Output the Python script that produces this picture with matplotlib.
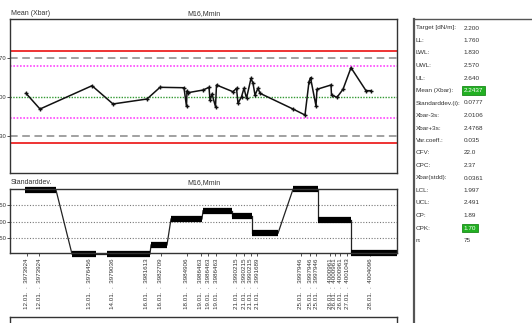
import matplotlib
matplotlib.use("Agg")
import matplotlib.pyplot as plt

plt.rcParams['font.family'] = ['Liberation Sans Narrow', 'Liberation Sans', 'DejaVu Sans']

# ---------------- data ----------------
# mean (Xbar) per sample: x position (sample axis units) and value
mean_x = [16, 30, 82, 103, 137, 150, 174, 176.5, 177, 178, 193, 199, 200, 202, 205.5, 206.5,
          223, 226.5, 228, 231.5, 234, 236.5, 241, 243, 245, 248, 250, 283, 295, 299, 300.5,
          306, 307, 321, 321.5, 327, 333, 341, 356, 361]
mean_y = [2.235, 2.086, 2.307, 2.134, 2.181, 2.292, 2.288, 2.110, 2.257, 2.241, 2.266, 2.292,
          2.172, 2.228, 2.108, 2.314, 2.250, 2.283, 2.140, 2.203, 2.283, 2.188, 2.377, 2.330,
          2.219, 2.283, 2.235, 2.086, 2.029, 2.345, 2.383, 2.115, 2.273, 2.314, 2.219, 2.197,
          2.273, 2.478, 2.260, 2.260]

# limits
target = 2.200
ll, lwl, uwl, ul = 1.760, 1.830, 2.570, 2.640
lcl, ucl = 1.997, 2.491

# standard deviation per group: start, end, value
sd_start = [15, 62, 97, 141, 161, 193, 222, 242, 283, 308, 341]
sd_end = [46, 86, 140, 157, 192, 222, 242, 268, 308, 341, 387]
sd_val = [0.0975, 0.0014, 0.0014, 0.0150, 0.0540, 0.0664, 0.0589, 0.0325, 0.0985, 0.0525, 0.0025]

# x tick labels
lab_x = [16.7, 29.3, 79.3, 103, 136.7, 150.7, 176.7, 190.7, 198.3, 206, 226, 234, 240.7, 247.3,
         290.7, 300, 306, 320, 325, 330, 337.3, 360]
lab_date = ["12.01.", "12.01.", "13.01.", "14.01.", "16.01.", "16.01.", "18.01.", "19.01.",
            "19.01.", "19.01.", "21.01.", "21.01.", "21.01.", "21.01.", "25.01.", "25.01.",
            "25.01.", "26.01.", "26.01.", "26.01.", "27.01.", "28.01."]
lab_num = ["3973924", "3973924", "3976456", "3979036", "3981613", "3982709", "3984906",
           "3986463", "3986463", "3986463", "3990215", "3990215", "3990215", "3991689",
           "3997946", "3997946", "3997946", "4000961", "4000961", "4000961", "4001043", "4004096"]

stat_names = ["Target [dN/m]:", "LL:", "LWL:", "UWL:", "UL:", "Mean (Xbar):", "Standarddev.(i):",
              "Xbar-3s:", "Xbar+3s:", "Var.coeff.:", "CFV:", "CPC:", "Xbar(stdd):", "LCL:",
              "UCL:", "CP:", "CPK:", "n:"]
stat_vals = ["2.200", "1.760", "1.830", "2.570", "2.640", "2.2437", "0.0777", "2.0106", "2.4768",
             "0.035", "22.0", "2.37", "0.0361", "1.997", "2.491", "1.89", "1.70", "75"]
stat_highlight = ["Mean (Xbar):", "CPK:"]

# ---------------- figure ----------------
W, H = 532, 323
fig = plt.figure(figsize=(W / 100, H / 100), dpi=100)

def box(x0, y0, x1, y1):
    return [x0 / W, 1 - y1 / H, (x1 - x0) / W, (y1 - y0) / H]

txtc = '#333333'

# top panel
ax1 = fig.add_axes(box(10, 19, 397, 173))
ax1.set_xlim(0, 387)
ax1.set_ylim(1.479, 2.940)
ax1.axhline(ul, color='#ee3333', lw=1.4)
ax1.axhline(ll, color='#ee3333', lw=1.4)
ax1.axhline(uwl, color='#888888', lw=1.1, ls=(0, (5, 3)))
ax1.axhline(lwl, color='#888888', lw=1.1, ls=(0, (5, 3)))
ax1.axhline(ucl, color='#ff44ff', lw=1.2, ls=(0, (1, 1)))
ax1.axhline(lcl, color='#ff44ff', lw=1.2, ls=(0, (1, 1)))
ax1.axhline(target, color='#339933', lw=1.0, ls=(0, (1, 1)))
ax1.plot(mean_x, mean_y, color='#111111', lw=1.1, marker='+', ms=3.5, mew=1)
ax1.set_xticks([])
ax1.set_yticks([uwl, target, lwl])
ax1.set_yticklabels([f"{v:.3f}" for v in (uwl, target, lwl)])
ax1.tick_params(axis='y', labelsize=4.2, length=2, width=0.6, pad=0.5, colors=txtc)
for s in ax1.spines.values():
    s.set_color('#333333'); s.set_linewidth(1.0)
fig.text(11 / W, 1 - 17 / H, "Mean (Xbar)", fontsize=5, color=txtc, ha='left', va='bottom')
fig.text(203.5 / W, 1 - 17 / H, "M16,Mmin", fontsize=5, color=txtc, ha='center', va='bottom')

# bottom panel
ax2 = fig.add_axes(box(10, 189, 397, 253))
ax2.set_xlim(0, 387)
ax2.set_ylim(0.0029, 0.099)
for g in (0.025, 0.05, 0.075):
    ax2.axhline(g, color='#777777', lw=0.8, ls=(0, (1, 1.5)))
for i in range(len(sd_val) - 1):
    ax2.plot([sd_end[i], sd_start[i + 1]], [sd_val[i], sd_val[i + 1]], color='#222222', lw=0.9,
             clip_on=False)
for s0, s1, v in zip(sd_start, sd_end, sd_val):
    ax2.plot([s0, s1], [v, v], color='black', lw=4.5, solid_capstyle='butt', clip_on=False)
ax2.set_yticks([0.075, 0.05, 0.025])
ax2.set_yticklabels(["0.0750", "0.0500", "0.0250"])
ax2.set_xticks(lab_x)
ax2.set_xticklabels([f"{d}  .  {n}" for d, n in zip(lab_date, lab_num)], rotation=90)
ax2.tick_params(axis='y', labelsize=4.2, length=2, width=0.6, pad=0.5, colors=txtc)
ax2.tick_params(axis='x', labelsize=4.5, length=2, width=0.6, pad=2, colors=txtc)
for s in ax2.spines.values():
    s.set_color('#333333'); s.set_linewidth(1.0)
fig.text(11 / W, 1 - 186 / H, "Standarddev.", fontsize=5, color=txtc, ha='left', va='bottom')
fig.text(203.5 / W, 1 - 186 / H, "M16,Mmin", fontsize=5, color=txtc, ha='center', va='bottom')

# lower (cut off) box
ax3 = fig.add_axes(box(10, 317, 397, 400))
ax3.set_xticks([]); ax3.set_yticks([])
ax3.set_facecolor('white')
ax3.set_zorder(5)
for s in ax3.spines.values():
    s.set_color('#333333'); s.set_linewidth(1.0)

# statistics panel
ax4 = fig.add_axes(box(414, 19, 560, 400))
ax4.set_xlim(414, 560)
ax4.set_ylim(400, 19)
ax4.set_xticks([]); ax4.set_yticks([])
for s in ax4.spines.values():
    s.set_color('#555555'); s.set_linewidth(1.0)
ax4.spines['left'].set_linewidth(1.6)
row0, dy = 28, 12.5
for i, (nm, vl) in enumerate(zip(stat_names, stat_vals)):
    yy = row0 + i * dy
    ax4.text(416, yy, nm, fontsize=4.6, color=txtc, ha='left', va='center')
    if nm in stat_highlight:
        ax4.text(463.5, yy, vl, fontsize=4.6, color='white', ha='left', va='center',
                 bbox=dict(boxstyle='square,pad=0.3', fc='#22b022', ec='#1a8a1a', lw=0.6))
    else:
        ax4.text(463.5, yy, vl, fontsize=4.6, color=txtc, ha='left', va='center')

fig.savefig("out.png", dpi=100)
